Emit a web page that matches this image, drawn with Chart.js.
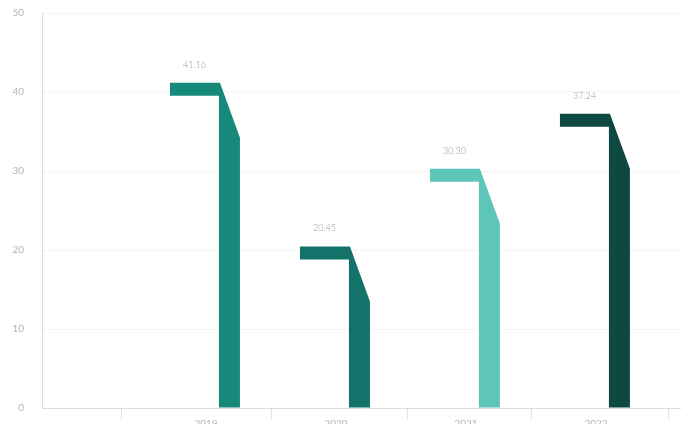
<!DOCTYPE html>
<html>
<head>
<meta charset="utf-8">
<script src="https://cdn.jsdelivr.net/npm/chart.js@4"></script>
<style>
  html, body { margin: 0; padding: 0; background: #fff; overflow: hidden; }
  #wrap { width: 682px; height: 440px; }
</style>
</head>
<body>
<div id="wrap"><canvas id="grafico" width="682" height="440"></canvas></div>
<script>
// dados
const categorias = ['2019', '2020', '2021', '2022'];
const valores = [41.16, 20.45, 30.30, 37.24];
const rotulosValor = ['41.16', '20.45', '30.30', '37.24'];
const coresBarras = ['#16897a', '#13726a', '#5ec6b9', '#0d4841'];
const ticksY = [0, 10, 20, 30, 40, 50];
const divisoresX = [-0.65, 0.5, 1.55, 2.5, 3.56];

const DESVIO_PILAR = 0.18; // o pilar fica à direita do centro da categoria
const corTexto = '#b4b4b4';

// desenha a "bandeira": faixa horizontal + diagonal + pilar, a partir do elemento de barra
const pluginBandeira = {
    id: 'bandeira',
    afterDatasetsDraw(chart) {
        const ctx = chart.ctx;
        const meta = chart.getDatasetMeta(0);
        meta.data.forEach((bar, i) => {
            const pL = bar.x - bar.width / 2;
            const pR = bar.x + bar.width / 2;
            const topo = bar.y;
            const base = bar.base;
            const faixa = 49, espessura = 13, queda = 55;
            ctx.save();
            ctx.fillStyle = coresBarras[i];
            ctx.beginPath();
            ctx.moveTo(pL - faixa, topo);
            ctx.lineTo(pL + 1, topo);
            ctx.lineTo(pR, topo + queda);
            ctx.lineTo(pR, base);
            ctx.lineTo(pL, base);
            ctx.lineTo(pL, topo + espessura);
            ctx.lineTo(pL - faixa, topo + espessura);
            ctx.closePath();
            ctx.fill();

            ctx.fillStyle = '#999';
            ctx.font = '300 9px Lato, "Open Sans", sans-serif';
            ctx.textAlign = 'center';
            ctx.textBaseline = 'middle';
            ctx.fillText(rotulosValor[i], pL - faixa / 2, topo - 18);
            ctx.restore();
        });
    }
};

new Chart(document.getElementById('grafico'), {
    type: 'bar',
    data: {
        datasets: [{
            data: categorias.map((c, i) => ({ x: i + DESVIO_PILAR, y: valores[i] })),
            backgroundColor: 'rgba(0,0,0,0)',
            barThickness: 21
        }]
    },
    options: {
        responsive: false,
        animation: false,
        layout: { autoPadding: false, padding: { left: 0, right: 2, top: 13, bottom: 0 } },
        plugins: { legend: { display: false }, tooltip: { enabled: false } },
        scales: {
            x: {
                type: 'linear',
                offset: false,
                min: -1.262,
                max: 3.646,
                afterBuildTicks: (scale) => {
                    const lista = [];
                    divisoresX.forEach(v => lista.push({ value: v }));
                    categorias.forEach((c, i) => lista.push({ value: i }));
                    scale.ticks = lista.sort((a, b) => a.value - b.value);
                },
                afterFit: (scale) => { scale.height = 32; },
                ticks: {
                    autoSkip: false,
                    maxRotation: 0,
                    color: corTexto,
                    font: { family: 'Lato, "Open Sans", sans-serif', size: 10 },
                    padding: -2,
                    callback: (v) => Number.isInteger(v) && categorias[v] ? categorias[v] : ''
                },
                grid: {
                    offset: false,
                    drawOnChartArea: false,
                    drawTicks: true,
                    tickLength: 12,
                    color: (c) => (c.tick && Number.isInteger(c.tick.value)) ? 'rgba(0,0,0,0)' : '#e2e2e2'
                },
                border: { color: '#dcdcdc' }
            },
            y: {
                min: 0,
                max: 50,
                afterBuildTicks: (scale) => { scale.ticks = ticksY.map(v => ({ value: v })); },
                afterFit: (scale) => { scale.width = 42; scale.paddingTop = 0; scale.paddingBottom = 0; },
                ticks: {
                    color: corTexto,
                    font: { family: 'Lato, "Open Sans", sans-serif', size: 10 },
                    padding: 18
                },
                grid: { drawTicks: false, color: '#f4f4f4' },
                border: { color: '#dcdcdc' }
            }
        }
    },
    plugins: [pluginBandeira]
});
</script>
</body>
</html>
